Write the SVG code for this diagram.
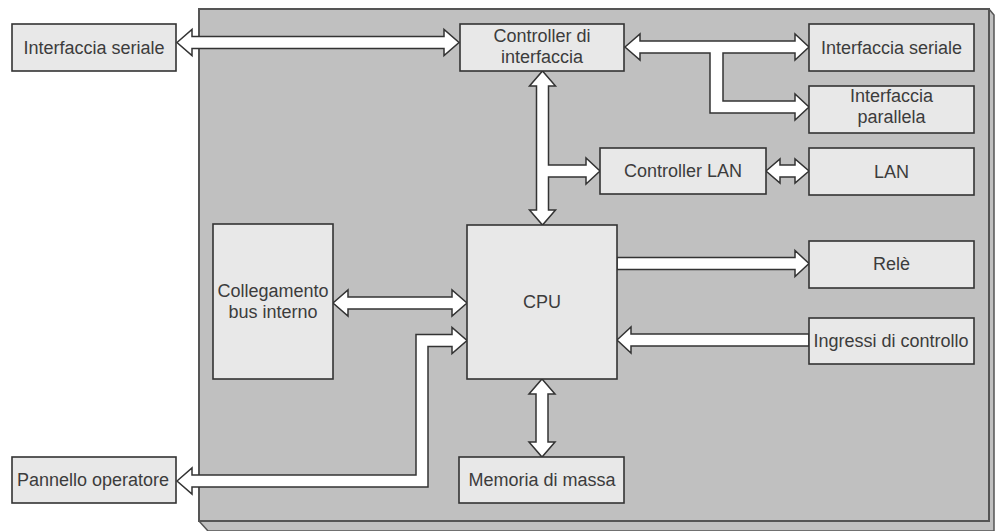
<svg xmlns="http://www.w3.org/2000/svg" width="998" height="531" viewBox="0 0 998 531">
<style>
.node{fill:#e8e8e8;stroke:#333;stroke-width:1.6}
.arr{fill:#fff;stroke:#333;stroke-width:1.5;stroke-linejoin:miter}
.t{font-family:"Liberation Sans",Arial,sans-serif;font-size:18px;fill:#3c3c3c;text-anchor:middle}
</style>
<rect width="998" height="531" fill="#fff"/>
<g id="enclosure">
<path d="M199,521 L208,531 L994,531 L994,15 L989,9 Z" fill="#c0c0c0" stroke="#555" stroke-width="1.5"/>
<rect x="199" y="9" width="790" height="512" fill="#c0c0c0" stroke="#555" stroke-width="2"/>
</g>
<g id="connectors">
<path class="arr" d="M177,42.5 L192,29.5 L192,36.5 L444,36.5 L444,29.5 L459,42.5 L444,55.5 L444,48.5 L192,48.5 L192,55.5 Z"/>
<path class="arr" d="M625,47 L640,34 L640,41 L795,41 L795,34 L809,47 L795,60 L795,53 L723,53 L723,101 L795,101 L795,94 L809,107 L795,120 L795,113 L710,113 L710,53 L640,53 L640,60 Z"/>
<path class="arr" d="M542.5,71 L555.5,86 L548.5,86 L548.5,165 L586,165 L586,158 L600,171 L586,184 L586,177 L548.5,177 L548.5,210 L555.5,210 L542.5,225 L529.5,210 L536.5,210 L536.5,86 L529.5,86 Z"/>
<path class="arr" d="M766,171 L780,159 L780,165 L795,165 L795,159 L809,171 L795,183 L795,177 L780,177 L780,183 Z"/>
<path class="arr" d="M333,303 L348,290 L348,297 L452,297 L452,290 L467,303 L452,316 L452,309 L348,309 L348,316 Z"/>
<path class="arr" d="M177,481 L192,468 L192,475 L416,475 L416,334.5 L452,334.5 L452,327.5 L467,340.5 L452,353.5 L452,346.5 L428,346.5 L428,487 L192,487 L192,494 Z"/>
<path class="arr" d="M617,257.5 L795,257.5 L795,250.5 L809,263.5 L795,276.5 L795,269.5 L617,269.5 Z"/>
<path class="arr" d="M617,340 L631,327 L631,334 L809,334 L809,346 L631,346 L631,353 Z"/>
<path class="arr" d="M542,379 L555,394 L548,394 L548,442 L555,442 L542,457 L529,442 L536,442 L536,394 L529,394 Z"/>
</g>
<g id="n-serial-left"><rect class="node" x="12" y="24" width="164" height="47"/><text class="t" x="94" y="53.5">Interfaccia seriale</text></g>
<g id="n-controller-if"><rect class="node" x="460" y="24" width="164" height="47"/><text class="t" x="542" y="42">Controller di</text><text class="t" x="542" y="63">interfaccia</text></g>
<g id="n-serial-right"><rect class="node" x="809" y="24" width="165" height="47"/><text class="t" x="891.5" y="53.5">Interfaccia seriale</text></g>
<g id="n-parallel"><rect class="node" x="809" y="86" width="165" height="47"/><text class="t" x="891.5" y="102">Interfaccia</text><text class="t" x="891.5" y="123">parallela</text></g>
<g id="n-controller-lan"><rect class="node" x="600" y="148" width="166" height="46"/><text class="t" x="683" y="177">Controller LAN</text></g>
<g id="n-lan"><rect class="node" x="809" y="148" width="165" height="47"/><text class="t" x="891.5" y="177.5">LAN</text></g>
<g id="n-bus"><rect class="node" x="213" y="224" width="120" height="155"/><text class="t" x="273" y="296.5">Collegamento</text><text class="t" x="273" y="318">bus interno</text></g>
<g id="n-cpu"><rect class="node" x="467" y="225" width="150" height="154"/><text class="t" x="542" y="308">CPU</text></g>
<g id="n-rele"><rect class="node" x="809" y="241" width="165" height="47"/><text class="t" x="891.5" y="270">Relè</text></g>
<g id="n-ingressi"><rect class="node" x="809" y="318" width="165" height="46"/><text class="t" x="891" y="347">Ingressi di controllo</text></g>
<g id="n-memoria"><rect class="node" x="459" y="457" width="165" height="46"/><text class="t" x="542" y="486">Memoria di massa</text></g>
<g id="n-pannello"><rect class="node" x="12" y="457" width="164" height="46"/><text class="t" x="93" y="486">Pannello operatore</text></g>
</svg>
